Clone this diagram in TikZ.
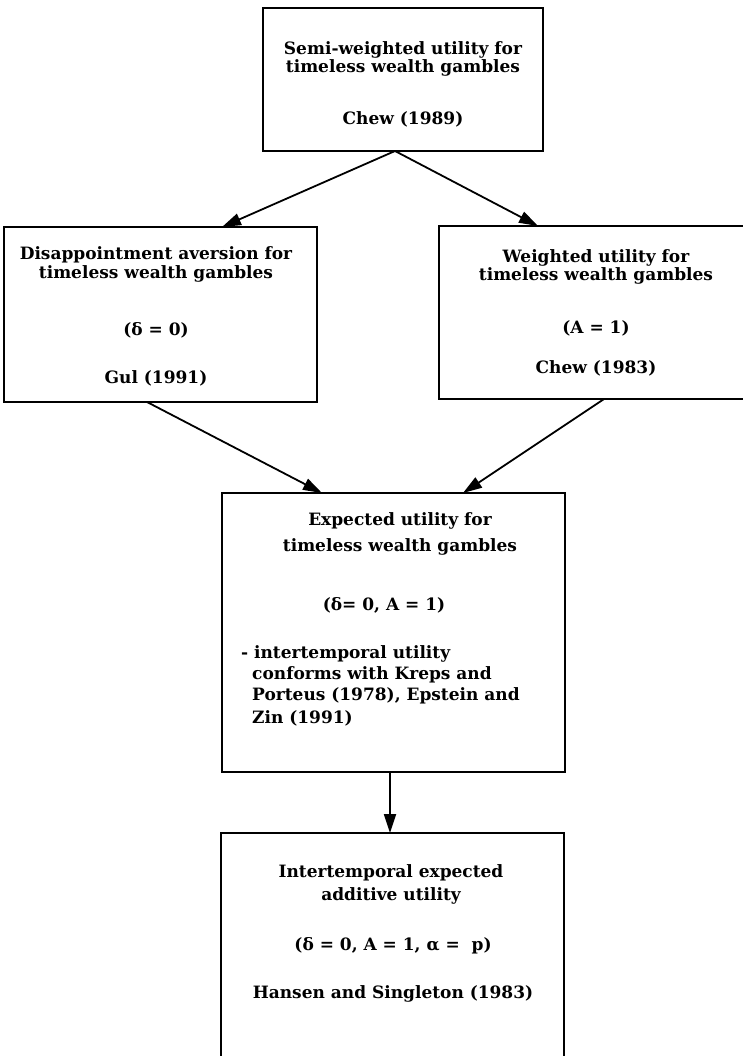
\documentclass[tikz,border=0pt]{standalone}
\usepackage{fontspec}
\setmainfont{DejaVu Serif}
\usetikzlibrary{arrows.meta,calc}
\begin{document}
\begin{tikzpicture}[x=1pt,y=-1pt,
  box/.style={draw,line width=1.8pt,rectangle,inner sep=0pt,outer sep=0pt},
  txt/.style={anchor=base,inner sep=0pt,font=\fontsize{17}{19}\selectfont\bfseries},
  txtl/.style={anchor=base west,inner sep=0pt,font=\fontsize{17}{19}\selectfont\bfseries},
  arr/.style={line width=1.8pt,-{Triangle[length=19pt,width=12pt]}}]
\useasboundingbox (0,0) rectangle (743,1056);
% boxes
\node[box,minimum width=280pt,minimum height=143pt] (top) at (403,79.5) {};
\node[box,minimum width=313pt,minimum height=175pt] (left) at (160.5,314.5) {};
\node[box,minimum width=321pt,minimum height=173pt] (right) at (599.5,312.5) {};
\node[box,minimum width=343pt,minimum height=279pt] (mid) at (393.5,632.5) {};
\node[box,minimum width=343pt,minimum height=267pt] (bot) at (392.5,966.5) {};
% texts
\node[txt] (t1) at (403,55) {Semi-weighted utility for};
\node[txt] (t2) at (403,73) {timeless wealth gambles};
\node[txt] (t3) at (403,125) {Chew (1989)};
\node[txt] (l1) at (156,260) {Disappointment aversion for};
\node[txt] (l2) at (156,279) {timeless wealth gambles};
\node[txt] (l3) at (156,335) {(δ = 0)};
\node[txt] (l4) at (156,383) {Gul (1991)};
\node[txt] (r1) at (596,262) {Weighted utility for};
\node[txt] (r2) at (596,280) {timeless wealth gambles};
\node[txt] (r3) at (596,333) {(A = 1)};
\node[txt] (r4) at (596,373) {Chew (1983)};
\node[txt] (m1) at (400,525) {Expected utility for};
\node[txt] (m2) at (400,551) {timeless wealth gambles};
\node[txt] (m3) at (384,610) {(δ= 0, A = 1)};
\node[txtl] (m4) at (241,658) {- intertemporal utility};
\node[txtl] (m5) at (252,679) {conforms with Kreps and};
\node[txtl] (m6) at (252,700) {Porteus (1978), Epstein and};
\node[txtl] (m7) at (252,723) {Zin (1991)};
\node[txt] (b1) at (391,877) {Intertemporal expected};
\node[txt] (b2) at (391,900) {additive utility};
\node[txt] (b3) at (393,950) {(δ = 0, A = 1, α =\ \ p)};
\node[txt] (b4) at (393,998) {Hansen and Singleton (1983)};
% arrows
\draw[arr] ($(top.south)+(-8,0)$) -- ($(left.north)+(61.5,0)$);
\draw[arr] ($(top.south)+(-8,0)$) -- ($(right.north)+(-61.5,0)$);
\draw[arr] ($(left.south)+(-13.5,0)$) -- ($(mid.north)+(-71.5,0)$);
\draw[arr] ($(right.south)+(4.5,0)$) -- ($(mid.north)+(69.5,0)$);
\draw[arr] ($(mid.south)+(-3.5,0)$) -- ($(bot.north)+(-2.5,0)$);
\end{tikzpicture}
\end{document}
